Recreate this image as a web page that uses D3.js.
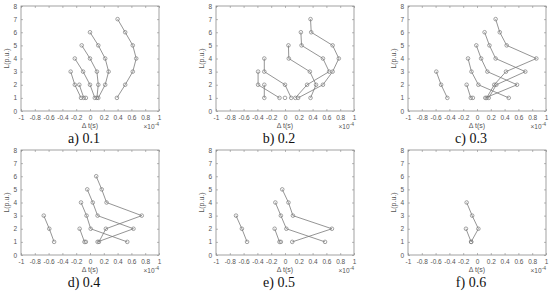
<!DOCTYPE html>
<html>
<head>
<meta charset="utf-8">
<script src="https://cdn.jsdelivr.net/npm/d3@7"></script>
<style>
  body { margin: 0; background: #fff; }
  svg { display: block; }
</style>
</head>
<body>
<svg id="chart" width="549" height="293"></svg>
<script>
// tick values shared by all six panels
const xTicks = [-1, -0.8, -0.6, -0.4, -0.2, 0, 0.2, 0.4, 0.6, 0.8, 1];
const yTicks = [0, 1, 2, 3, 4, 5, 6, 7, 8];
const captions = ["a) 0.1", "b) 0.2", "c) 0.3", "d) 0.4", "e) 0.5", "f) 0.6"];

// each chain: Δt (x1e-4 s) for L = 1, 2, 3 ... upward
const panelA = [
    [0.39, 0.51, 0.62, 0.67, 0.62, 0.51, 0.40],
    [0.12, 0.22, 0.27, 0.22, 0.12, 0],
    [0.10, 0.12, 0.10, 0, -0.12],
    [0.07, 0, -0.10, -0.22],
    [-0.13, -0.22, -0.28],
    [-0.09, -0.155],
    [-0.06]
];
const panelB = [
    [0.19, 0.55, 0.69, 0.78, 0.69, 0.38, 0.37],
    [0.15, 0.32, 0.64, 0.55, 0.24, 0.23],
    [0.37, 0.45, 0.36, 0.055, 0.05],
    [0.09, 0, -0.30, -0.30],
    [-0.08, -0.39, -0.39],
    [-0.30, -0.30],
    [0]
];
const panelC = [
    [0.14, 0.25, 0.42, 0.86, 0.43, 0.33, 0.27],
    [0.17, 0.28, 0.70, 0.27, 0.18, 0.11],
    [0.12, 0.58, 0.15, 0.06, -0.01],
    [0.46, 0.02, -0.08, -0.13],
    [-0.43, -0.52, -0.59],
    [-0.09, -0.15],
    [-0.06]
];
const panelD = [
    [0.13, 0.23, 0.75, 0.24, 0.17, 0.09],
    [0.11, 0.63, 0.11, 0.04, -0.04],
    [0.54, 0.01, -0.05, -0.13],
    [-0.52, -0.59, -0.67],
    [-0.08, -0.15],
    [-0.06]
];
const panelE = [
    [0.105, 0.68, 0.115, 0.05, -0.04],
    [0.58, 0.02, -0.06, -0.14],
    [-0.55, -0.625, -0.71],
    [-0.08, -0.15],
    [-0.06]
];
const panelF = [
    [-0.085, 0.02, -0.07, -0.15],
    [-0.085, -0.16]
];
const panels = [panelA, panelB, panelC, panelD, panelE, panelF];

const svg = d3.select('#chart');
svg.append('rect').attr('width', 549).attr('height', 293).attr('fill', '#fff');

const colLeft = [21, 216, 408];
const rowTop = [6, 150];
const boxW = 138, boxH = 105;
const axisColor = '#8a8a8a';
const textColor = '#555';
const lineColor = '#7a7a7a';
const tickFont = 'Liberation Sans, Arial, sans-serif';
const fmt = d => String(+d.toFixed(1));

panels.forEach((chains, i) => {
    const left = colLeft[i % 3], top = rowTop[Math.floor(i / 3)];
    const x = d3.scaleLinear().domain([-1, 1]).range([left, left + boxW]);
    const y = d3.scaleLinear().domain([0, 8]).range([top + boxH, top]);
    const g = svg.append('g');

    // box
    g.append('rect')
        .attr('x', left).attr('y', top)
        .attr('width', boxW).attr('height', boxH)
        .attr('fill', 'none').attr('stroke', axisColor).attr('stroke-width', 0.8);

    const styleAxis = a => {
        a.select('.domain').remove();
        a.selectAll('.tick line').attr('stroke', axisColor).attr('stroke-width', 0.6);
        a.selectAll('.tick text')
            .attr('fill', textColor)
            .style('font-family', tickFont)
            .style('font-size', '6.5px');
    };

    g.append('g').attr('transform', `translate(0,${top + boxH})`)
        .call(d3.axisBottom(x).tickValues(xTicks).tickFormat(fmt).tickSize(-2).tickPadding(4))
        .call(styleAxis);
    g.append('g').attr('transform', `translate(0,${top})`)
        .call(d3.axisTop(x).tickValues(xTicks).tickFormat('').tickSize(-2))
        .call(styleAxis);
    g.append('g').attr('transform', `translate(${left},0)`)
        .call(d3.axisLeft(y).tickValues(yTicks).tickFormat(fmt).tickSize(-2).tickPadding(4))
        .call(styleAxis);
    g.append('g').attr('transform', `translate(${left + boxW},0)`)
        .call(d3.axisRight(y).tickValues(yTicks).tickFormat('').tickSize(-2))
        .call(styleAxis);

    // labels
    g.append('text')
        .attr('x', left + boxW / 2).attr('y', top + boxH + 17)
        .attr('text-anchor', 'middle')
        .attr('fill', textColor)
        .style('font-family', tickFont).style('font-size', '7px')
        .text('Δ t(s)');
    const ex = g.append('text')
        .attr('x', left + boxW).attr('y', top + boxH + 18)
        .attr('text-anchor', 'end')
        .attr('fill', textColor)
        .style('font-family', tickFont).style('font-size', '6.5px');
    ex.append('tspan').text('×10');
    ex.append('tspan').attr('dy', -3).style('font-size', '5px').text('-4');
    g.append('text')
        .attr('transform', `translate(${left - 12},${top + boxH / 2}) rotate(-90)`)
        .attr('text-anchor', 'middle')
        .attr('fill', textColor)
        .style('font-family', tickFont).style('font-size', '7px')
        .text('L(p.u.)');
    g.append('text')
        .attr('x', left + boxW / 2 - 6).attr('y', top + boxH + 32)
        .attr('text-anchor', 'middle')
        .attr('fill', '#111')
        .style('font-family', 'Liberation Serif, Times New Roman, serif')
        .style('font-size', '14px')
        .text(captions[i]);

    // chains
    const line = d3.line().x(d => x(d)).y((d, k) => y(k + 1));
    g.selectAll('path.chain')
        .data(chains)
        .join('path')
        .attr('class', 'chain')
        .attr('d', line)
        .attr('fill', 'none')
        .attr('stroke', lineColor)
        .attr('stroke-width', 0.8);
    chains.forEach(c => {
        g.selectAll(null)
            .data(c)
            .join('circle')
            .attr('cx', d => x(d))
            .attr('cy', (d, k) => y(k + 1))
            .attr('r', 1.8)
            .attr('fill', 'none')
            .attr('stroke', lineColor)
            .attr('stroke-width', 0.7);
    });
});
</script>
</body>
</html>
